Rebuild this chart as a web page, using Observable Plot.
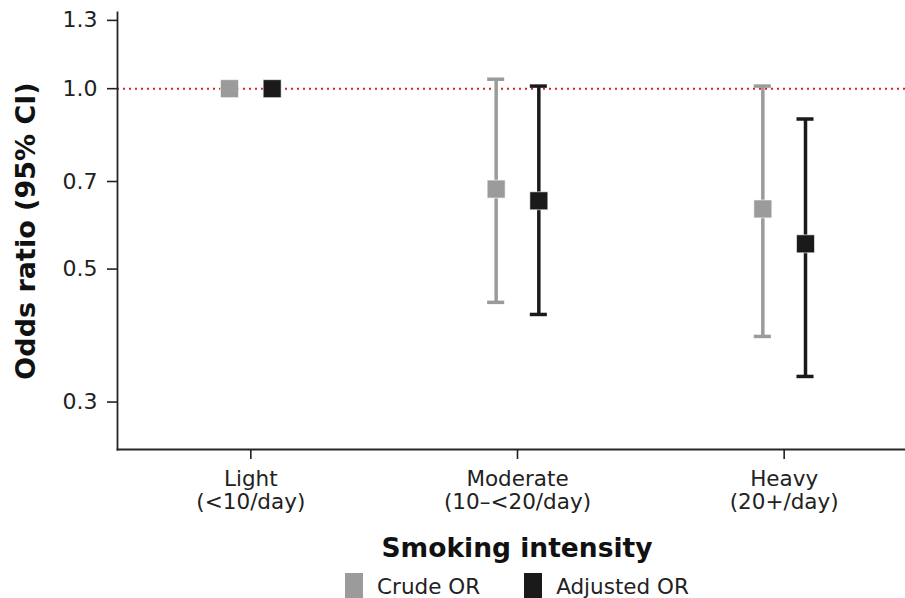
<!DOCTYPE html>
<html>
<head>
<meta charset="utf-8">
<script src="https://cdn.jsdelivr.net/npm/d3@7"></script>
<script src="https://cdn.jsdelivr.net/npm/@observablehq/plot@0.6"></script>
<style>
  html, body { margin: 0; padding: 0; background: #fff; }
  body { width: 905px; height: 598px; overflow: hidden; font-family: "DejaVu Sans", sans-serif; color: #222; }
  #xlabel { margin-left: 117px; width: 800px; text-align: center; font-size: 26.5px; font-weight: bold; line-height: 56px; height: 56px; color: #111; }
  #legend { margin-left: 117px; width: 800px; display: flex; justify-content: center; align-items: flex-start; font-size: 21.5px; line-height: 22px; }
  .item { display: flex; align-items: flex-start; margin: 0 22px; }
  .sw { width: 18px; height: 28px; margin-right: 14px; margin-top: -3px; }
</style>
</head>
<body>
<div id="chart"></div>
<div id="xlabel"></div>
<div id="legend"></div>
<script>
// ---- data ----
const categories = ["Light\n(<10/day)", "Moderate\n(10–<20/day)", "Heavy\n(20+/day)"];
const series = ["Crude OR", "Adjusted OR"];
const crudeOR = [1.0, 0.68, 0.63];
const crudeLo = [null, 0.44, 0.386];
const crudeHi = [null, 1.037, 1.01];
const adjustedOR = [1.0, 0.65, 0.551];
const adjustedLo = [null, 0.42, 0.331];
const adjustedHi = [null, 1.01, 0.89];
const yTicks = [0.3, 0.5, 0.7, 1.0, 1.3];
const yLabel = "Odds ratio (95% CI)";
const xLabel = "Smoking intensity";

const colors = ["#9b9b9b", "#1a1a1a"];
const offsets = [-0.08, 0.08];
const capHalf = 0.032;

const est = [crudeOR, adjustedOR], lo = [crudeLo, adjustedLo], hi = [crudeHi, adjustedHi];
const rows = categories.flatMap((c, i) => series.map((s, j) => ({
  i, s, x: i + offsets[j], or: est[j][i], lo: lo[j][i], hi: hi[j][i]
})));
const ci = rows.filter(d => d.lo != null);

const chart = Plot.plot({
  width: 905,
  height: 520,
  marginTop: 12,
  marginBottom: 71,
  marginLeft: 117,
  marginRight: 0,
  style: { fontFamily: "DejaVu Sans, sans-serif", color: "#222", background: "#fff", overflow: "visible" },
  x: { type: "linear", domain: [-0.5, 2.5], range: [117, 917] },
  y: { type: "log", domain: [0.25, 1.34] },
  color: { domain: series, range: colors },
  marks: [
    Plot.ruleY([1], { stroke: "#d9202a", strokeWidth: 2, strokeDasharray: "2,4" }),
    Plot.ruleX(ci, { x: "x", y1: "lo", y2: "hi", stroke: "s", strokeWidth: 3.5 }),
    Plot.ruleY(ci, { y: "lo", x1: d => d.x - capHalf, x2: d => d.x + capHalf, stroke: "s", strokeWidth: 3.5 }),
    Plot.ruleY(ci, { y: "hi", x1: d => d.x - capHalf, x2: d => d.x + capHalf, stroke: "s", strokeWidth: 3.5 }),
    Plot.dot(rows, { x: "x", y: "or", fill: "s", symbol: "square", r: 10.15, stroke: "#fff", strokeWidth: 0.6 }),
    Plot.frame({ anchor: "left", stroke: "#262626", strokeWidth: 1.8 }),
    Plot.frame({ anchor: "bottom", stroke: "#262626", strokeWidth: 1.8 }),
    Plot.axisY({ ticks: yTicks, tickFormat: d3.format(".1f"), tickSize: 10, tickPadding: 10, fontSize: 22, strokeWidth: 1.6, label: null }),
    Plot.axisX({ ticks: d3.range(categories.length), tickFormat: i => categories[i], tickSize: 10, tickPadding: 10, fontSize: 21.5, lineHeight: 1.08, strokeWidth: 1.6, label: null }),
    Plot.text([yLabel], { text: d => d, frameAnchor: "left", rotate: -90, dx: -91, fontSize: 27, fontWeight: "bold", fill: "#111", textAnchor: "middle", lineAnchor: "middle" })
  ]
});
document.getElementById("chart").appendChild(chart);
document.getElementById("xlabel").textContent = xLabel;

const legend = d3.select("#legend");
series.forEach((s, j) => {
  const it = legend.append("div").attr("class", "item");
  it.append("div").attr("class", "sw").style("background", colors[j]);
  it.append("span").text(s);
});
</script>
</body>
</html>
